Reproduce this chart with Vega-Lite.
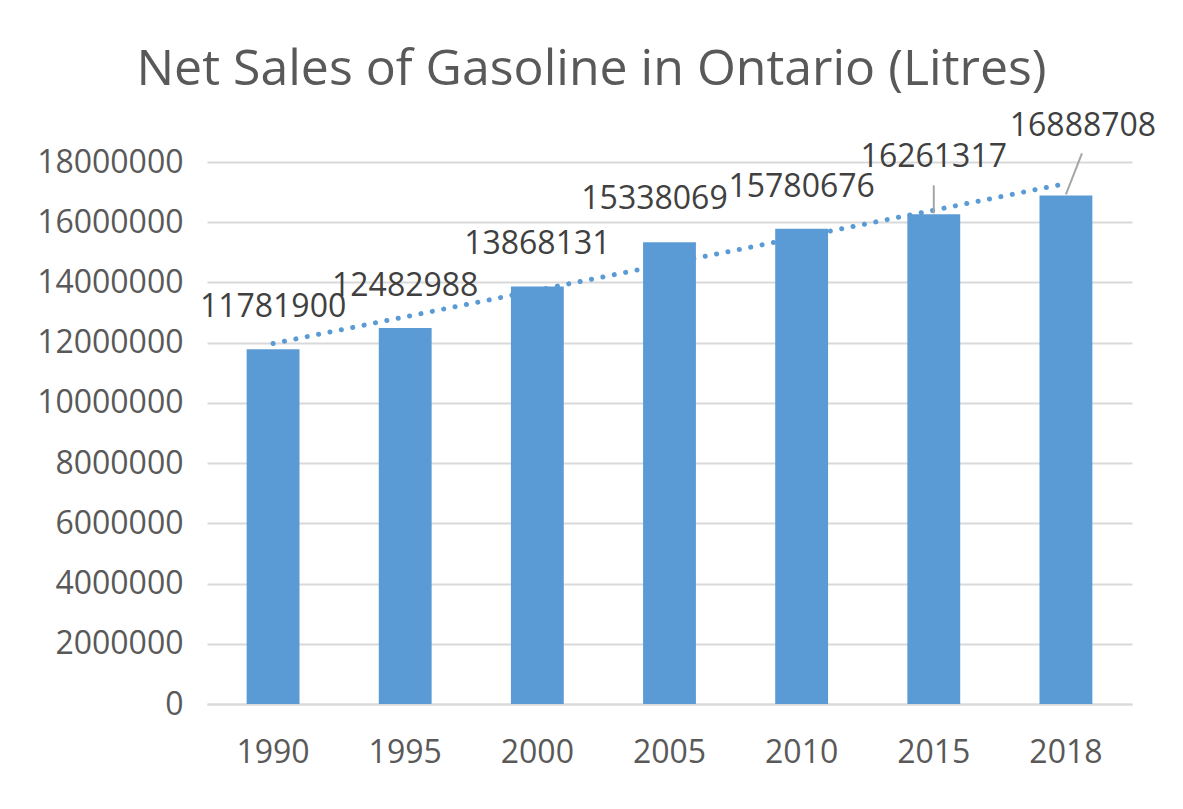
{
  "$schema": "https://vega.github.io/schema/vega-lite/v6.json",
  "autosize": {"type": "none"},
  "padding": {"left": 207, "top": 162, "right": 51, "bottom": 105},
  "width": 925,
  "height": 542,
  "background": "white",
  "title": {
    "text": "Net Sales of Gasoline in Ontario (Litres)",
    "font": "Open Sans",
    "fontSize": 50,
    "fontWeight": "normal",
    "color": "#595959",
    "anchor": "middle",
    "frame": "group",
    "baseline": "alphabetic",
    "offset": -25,
    "dx": -78
  },
  "data": {
    "values": [
      {"year": "1990", "value": 11781900, "trend": 11972795},
      {"year": "1995", "value": 12482988, "trend": 12858139},
      {"year": "2000", "value": 13868131, "trend": 13743483},
      {"year": "2005", "value": 15338069, "trend": 14628827},
      {"year": "2010", "value": 15780676, "trend": 15514171},
      {"year": "2015", "value": 16261317, "trend": 16399515},
      {"year": "2018", "value": 16888708, "trend": 17284859}
    ]
  },
  "encoding": {
    "x": {
      "field": "year",
      "type": "ordinal",
      "bandPosition": 0.5,
      "scale": {"paddingInner": 0.6, "paddingOuter": 0.3},
      "axis": {
        "title": null,
        "labelAngle": 0,
        "labelFont": "Open Sans",
        "labelFontSize": 32,
        "labelColor": "#595959",
        "labelPadding": 33,
        "ticks": false,
        "tickSize": 0,
        "domainColor": "#d9d9d9",
        "domainWidth": 2,
        "grid": false
      }
    }
  },
  "layer": [
    {
      "mark": {"type": "line", "color": "#5B9BD5", "strokeWidth": 5, "strokeCap": "round", "strokeDash": [0.1, 11.5]},
      "encoding": {
        "y": {
          "field": "trend",
          "type": "quantitative",
          "scale": {"domain": [0, 18000000], "nice": false},
          "axis": {
            "title": null,
            "values": [0, 2000000, 4000000, 6000000, 8000000, 10000000, 12000000, 14000000, 16000000, 18000000],
            "format": "d",
            "labelFont": "Open Sans",
            "labelFontSize": 32,
            "labelColor": "#595959",
            "labelPadding": 24,
            "ticks": false,
            "tickSize": 0,
            "domain": false,
            "grid": true,
            "gridColor": "#d9d9d9",
            "gridWidth": 2
          }
        }
      }
    },
    {
      "mark": {"type": "bar", "color": "#5B9BD5"},
      "encoding": {
        "x": {"field": "year", "type": "ordinal"},
        "y": {"field": "value", "type": "quantitative"}
      }
    },
    {
      "transform": [{"filter": "datum.year != '2005' && datum.year != '2015' && datum.year != '2018'"}],
      "mark": {"type": "text", "font": "Open Sans", "fontSize": 32, "color": "#404040", "baseline": "alphabetic", "dy": -32},
      "encoding": {
        "y": {"field": "value", "type": "quantitative"},
        "text": {"field": "value", "type": "quantitative", "format": "d"}
      }
    },
    {
      "transform": [{"filter": "datum.year == '2005'"}],
      "mark": {"type": "text", "font": "Open Sans", "fontSize": 32, "color": "#404040", "baseline": "alphabetic", "dy": -33, "dx": -15},
      "encoding": {
        "y": {"field": "value", "type": "quantitative"},
        "text": {"field": "value", "type": "quantitative", "format": "d"}
      }
    },
    {
      "transform": [{"filter": "datum.year == '2015'"}],
      "mark": {"type": "text", "font": "Open Sans", "fontSize": 32, "color": "#404040", "baseline": "alphabetic", "dy": -47},
      "encoding": {
        "y": {"field": "value", "type": "quantitative"},
        "text": {"field": "value", "type": "quantitative", "format": "d"}
      }
    },
    {
      "transform": [{"filter": "datum.year == '2018'"}],
      "mark": {"type": "text", "font": "Open Sans", "fontSize": 32, "color": "#404040", "baseline": "alphabetic", "dy": -59, "dx": 17},
      "encoding": {
        "y": {"field": "value", "type": "quantitative"},
        "text": {"field": "value", "type": "quantitative", "format": "d"}
      }
    },
    {
      "transform": [{"filter": "datum.year == '2015'"}],
      "mark": {"type": "rule", "color": "#a6a6a6", "strokeWidth": 2, "yOffset": -1, "y2Offset": -29},
      "encoding": {
        "x2": {"field": "year"},
        "y": {"field": "value", "type": "quantitative"},
        "y2": {"field": "value"}
      }
    },
    {
      "transform": [{"filter": "datum.year == '2018'"}],
      "mark": {"type": "rule", "color": "#a6a6a6", "strokeWidth": 2, "yOffset": -1, "y2Offset": -42, "x2Offset": 16},
      "encoding": {
        "x2": {"field": "year"},
        "y": {"field": "value", "type": "quantitative"},
        "y2": {"field": "value"}
      }
    }
  ],
  "config": {
    "view": {"stroke": null}
  }
}
